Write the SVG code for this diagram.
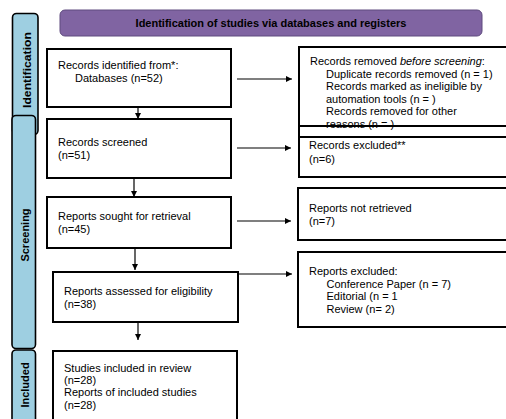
<svg xmlns="http://www.w3.org/2000/svg" width="506" height="419" viewBox="0 0 506 419">
<style>
.box{fill:none;stroke:#000;stroke-width:2}
.side{fill:#9ecfe1;stroke:#000;stroke-width:1.6}
.t{font-family:"Liberation Sans",Arial,sans-serif;font-size:11px;fill:#000}
.b{font-family:"Liberation Sans",Arial,sans-serif;font-size:11px;font-weight:bold;fill:#000}
.c{stroke:#000;stroke-width:1.2;fill:none;marker-end:url(#ah)}
</style>
<defs>
<marker id="ah" viewBox="0 0 10 10" refX="10" refY="5" markerWidth="6" markerHeight="6" markerUnits="userSpaceOnUse" orient="auto">
<path d="M0,0 L10,5 L0,10 z" fill="#000"/>
</marker>
</defs>
<rect width="506" height="419" fill="#fff"/>
<g id="banner">
<rect x="60" y="10" width="422" height="26" rx="5" fill="#8064a2" stroke="#5e4a7e" stroke-width="1"/>
<text class="b" x="271" y="26.5" text-anchor="middle">Identification of studies via databases and registers</text>
</g>
<g id="side-identification">
<rect class="side" x="12.5" y="13.5" width="25.5" height="121" rx="4"/>
<text class="b" transform="translate(31,70) rotate(-90)" text-anchor="middle" textLength="76" lengthAdjust="spacingAndGlyphs">Identification</text>
</g>
<g id="side-screening">
<rect class="side" x="12" y="115.5" width="23.5" height="233" rx="4"/>
<text class="b" transform="translate(28.5,235) rotate(-90)" text-anchor="middle">Screening</text>
</g>
<g id="side-included">
<rect class="side" x="12" y="350" width="23.5" height="80" rx="4"/>
<text class="b" transform="translate(28.5,385) rotate(-90)" text-anchor="middle">Included</text>
</g>
<g id="connectors">
<line class="c" x1="138" y1="107" x2="138" y2="119"/>
<line class="c" x1="134" y1="178" x2="134" y2="197"/>
<line class="c" x1="135" y1="248" x2="135" y2="270"/>
<line class="c" x1="138" y1="322" x2="138" y2="340"/>
<line class="c" x1="237" y1="79" x2="292" y2="79"/>
<line class="c" x1="237" y1="148" x2="291" y2="148"/>
<line class="c" x1="237" y1="221" x2="291" y2="221"/>
<line class="c" x1="238" y1="274" x2="292" y2="274"/>
</g>
<g id="records-identified">
<rect class="box" x="47" y="49" width="184" height="58"/>
<text class="t" x="58" y="69">Records identified from*:</text>
<text class="t" x="75" y="81.7">Databases (n=52)</text>
</g>
<g id="records-screened">
<rect class="box" x="47" y="119" width="184" height="59"/>
<text class="t" x="58" y="145.7">Records screened</text>
<text class="t" x="58" y="158.5">(n=51)</text>
</g>
<g id="reports-sought">
<rect class="box" x="47" y="197" width="184" height="51"/>
<text class="t" x="58" y="220">Reports sought for retrieval</text>
<text class="t" x="58" y="232.8">(n=45)</text>
</g>
<g id="reports-assessed">
<rect class="box" x="53" y="272" width="185" height="50"/>
<text class="t" x="64" y="295">Reports assessed for eligibility</text>
<text class="t" x="64" y="307.7">(n=38)</text>
</g>
<g id="studies-included">
<rect class="box" x="53" y="351" width="184" height="80"/>
<text class="t" x="64" y="371.5">Studies included in review</text>
<text class="t" x="64" y="384">(n=28)</text>
<text class="t" x="64" y="396.3">Reports of included studies</text>
<text class="t" x="64" y="408.7">(n=28)</text>
</g>
<g id="records-removed">
<rect class="box" x="299" y="47" width="220" height="90"/>
<text class="t" x="310" y="65">Records removed <tspan font-style="italic">before screening</tspan>:</text>
<text class="t" x="326" y="77.6">Duplicate records removed (n = 1)</text>
<text class="t" x="326" y="90.2">Records marked as ineligible by</text>
<text class="t" x="326" y="102.8">automation tools (n = )</text>
<text class="t" x="326" y="115.4">Records removed for other</text>
<text class="t" x="326" y="128">reasons (n = )</text>
</g>
<g id="records-excluded">
<rect class="box" x="299" y="126" width="220" height="51"/>
<text class="t" x="309" y="149.3">Records excluded**</text>
<text class="t" x="309" y="162.5">(n=6)</text>
</g>
<g id="reports-not-retrieved">
<rect class="box" x="298" y="188" width="221" height="52"/>
<text class="t" x="309" y="211.7">Reports not retrieved</text>
<text class="t" x="309" y="224.8">(n=7)</text>
</g>
<g id="reports-excluded">
<rect class="box" x="298" y="252" width="221" height="75"/>
<text class="t" x="309" y="275">Reports excluded:</text>
<text class="t" x="326.5" y="287.7">Conference Paper (n = 7)</text>
<text class="t" x="326.5" y="300.3">Editorial (n = 1</text>
<text class="t" x="326.5" y="313">Review (n= 2)</text>
</g>
</svg>
